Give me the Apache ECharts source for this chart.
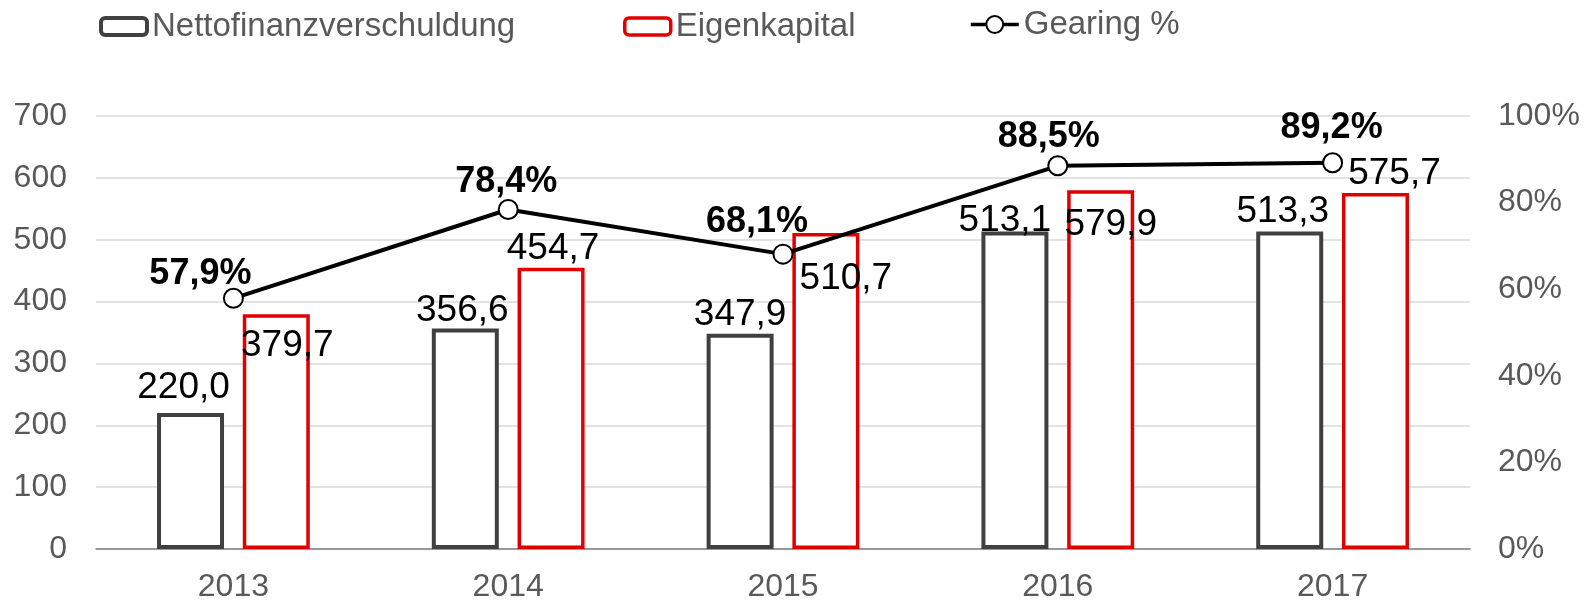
<!DOCTYPE html>
<html>
<head>
  <meta charset="utf-8">
  <title>Gearing</title>
  <script src="https://cdn.jsdelivr.net/npm/echarts@6/dist/echarts.min.js"></script>
  <style>
    html, body { margin: 0; padding: 0; background: #fff; }
    #main { width: 1588px; height: 604px; }
  </style>
</head>
<body>
  <div id="main"></div>
  <script type="text/javascript">
    var years = ['2013', '2014', '2015', '2016', '2017'];
    var netDebt = [220.0, 356.6, 347.9, 513.1, 513.3];
    var equity = [379.7, 454.7, 510.7, 579.9, 575.7];
    var gearing = [57.9, 78.4, 68.1, 88.5, 89.2];

    // label nudges, the source had them dragged around by hand
    var debtOffsets = [[-7, -7], [-3, 1], [0, -1], [-10, 8], [-7, -1]];
    var equityOffsets = [[11, 50], [2, 0], [20, 64], [10, 53], [19, -1]];
    var gearingOffsets = [[-33, 9], [-2, 6], [-26, 1], [-9, 5], [-1, -1]];

    var font = "'Liberation Sans', Arial, sans-serif";
    var grey = '#595959';

    function comma(v) {
      return v.toFixed(1).replace('.', ',');
    }

    function withOffsets(values, offsets) {
      return values.map(function (v, i) {
        return { value: v, label: { offset: offsets[i] } };
      });
    }

    var myChart = echarts.init(document.getElementById('main'));

    var legendText = { fontFamily: font, fontSize: 33, color: grey };

    var option = {
      animation: false,
      legend: [{
        left: 99, top: 10, padding: 0, itemWidth: 46, itemHeight: 17,
        textStyle: legendText,
        data: [{ name: 'Nettofinanzverschuldung', itemStyle: { color: '#fff', borderColor: '#404040', borderWidth: 4 } }]
      }, {
        left: 623, top: 10, padding: 0, itemWidth: 46, itemHeight: 17,
        textStyle: legendText,
        data: [{ name: 'Eigenkapital', itemStyle: { color: '#fff', borderColor: '#e00000', borderWidth: 3.5 } }]
      }, {
        left: 969, top: 8, padding: 0, itemWidth: 48, itemHeight: 21,
        textStyle: legendText,
        lineStyle: { width: 3.5, color: '#000' },
        itemStyle: { color: '#fff', borderColor: '#000', borderWidth: 2 },
        data: ['Gearing %']
      }],
      grid: {
        left: 96,
        right: 118,
        top: 116,
        bottom: 55
      },
      xAxis: {
        type: 'category',
        data: years,
        axisTick: { show: false },
        axisLine: { lineStyle: { color: '#808080', width: 1.5 } },
        axisLabel: { fontFamily: font, fontSize: 32, color: grey, margin: 22 }
      },
      yAxis: [{
        type: 'value',
        min: 0,
        max: 700,
        interval: 100,
        axisLine: { show: false },
        axisTick: { show: false },
        splitLine: { lineStyle: { color: '#d9d9d9', width: 1.5 } },
        axisLabel: { fontFamily: font, fontSize: 32, color: grey, margin: 29 }
      }, {
        type: 'value',
        min: 0,
        max: 100,
        interval: 20,
        axisLine: { show: false },
        axisTick: { show: false },
        splitLine: { show: false },
        axisLabel: { fontFamily: font, fontSize: 32, color: grey, margin: 28, formatter: '{value}%' }
      }],
      series: [{
        name: 'Nettofinanzverschuldung',
        type: 'bar',
        barWidth: 67,
        barGap: '28%',
        data: withOffsets(netDebt, debtOffsets),
        itemStyle: { color: '#fff', borderColor: '#404040', borderWidth: 4 },
        label: {
          show: true,
          position: 'top',
          distance: 0,
          fontFamily: font,
          fontSize: 37,
          color: '#000',
          formatter: function (p) { return comma(p.value); }
        }
      }, {
        name: 'Eigenkapital',
        type: 'bar',
        barWidth: 67,
        data: withOffsets(equity, equityOffsets),
        itemStyle: { color: '#fff', borderColor: '#e00000', borderWidth: 3.5 },
        label: {
          show: true,
          position: 'top',
          distance: 0,
          fontFamily: font,
          fontSize: 37,
          color: '#000',
          formatter: function (p) { return comma(p.value); }
        }
      }, {
        name: 'Gearing %',
        type: 'line',
        yAxisIndex: 1,
        z: 5,
        data: withOffsets(gearing, gearingOffsets),
        symbol: 'circle',
        symbolSize: 19,
        lineStyle: { color: '#000', width: 4 },
        itemStyle: { color: '#fff', borderColor: '#000', borderWidth: 2 },
        label: {
          show: true,
          position: 'top',
          fontFamily: font,
          fontSize: 36,
          fontWeight: 'bold',
          color: '#000',
          formatter: function (p) { return comma(p.value) + '%'; }
        }
      }]
    };

    myChart.setOption(option);
  </script>
</body>
</html>
